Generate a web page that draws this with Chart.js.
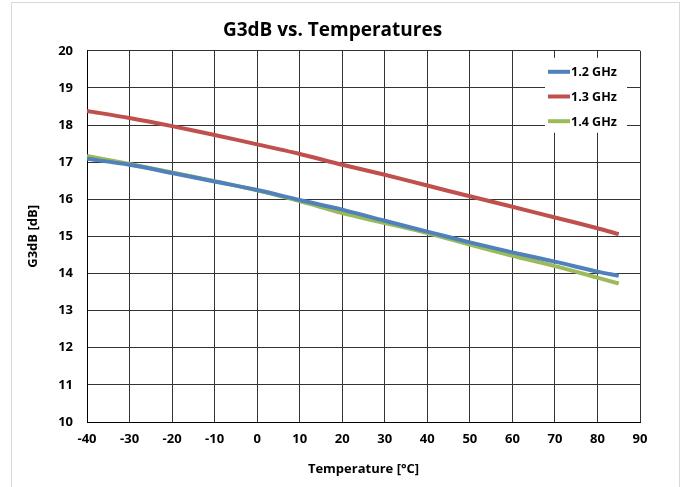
<!DOCTYPE html>
<html>
<head>
<meta charset="utf-8">
<script src="https://cdn.jsdelivr.net/npm/chart.js@4.4.1/dist/chart.umd.min.js"></script>
<style>
  html, body { margin: 0; padding: 0; background: #fff; }
  #wrap { position: relative; width: 686px; height: 487px; }
  #frame { position: absolute; left: 11px; top: 2px; width: 669px; height: 490px; border: 1px solid #d9d9d9; box-sizing: border-box; pointer-events: none; }
</style>
</head>
<body>
<div id="wrap">
  <canvas id="myChart" width="686" height="487"></canvas>
  <div id="frame"></div>
</div>
<script>
const temps = [-40, -30, -20, -10, 0, 10, 20, 30, 40, 50, 60, 70, 80, 85];
const g12 = [17.09, 16.93, 16.71, 16.48, 16.25, 15.98, 15.72, 15.42, 15.13, 14.84, 14.57, 14.32, 14.05, 13.94];
const g13 = [18.38, 18.19, 17.97, 17.73, 17.48, 17.22, 16.93, 16.66, 16.37, 16.08, 15.80, 15.51, 15.22, 15.06];
const g14 = [17.17, 16.95, 16.72, 16.49, 16.24, 15.95, 15.63, 15.36, 15.09, 14.78, 14.48, 14.20, 13.89, 13.73];
const seriesNames = ['1.2 GHz', '1.3 GHz', '1.4 GHz'];
const seriesColors = ['#4F81BD', '#C0504D', '#9BBB59'];

const FONT = '"Open Sans", "Noto Sans", sans-serif';

const toPoints = (vals) => temps.map((t, i) => ({ x: t, y: vals[i] }));

// legend drawn inside the plot area, top right, on a white box
const insideLegend = {
  id: 'insideLegend',
  afterDatasetsDraw(chart) {
    const ctx = chart.ctx;
    const area = chart.chartArea;
    const boxLeft = area.right - 95;
    const boxTop = area.top + 7;
    ctx.save();
    ctx.fillStyle = '#fff';
    ctx.fillRect(boxLeft, boxTop, 82, 75);
    ctx.font = 'bold 12.5px ' + FONT;
    ctx.textBaseline = 'middle';
    chart.data.datasets.forEach((ds, i) => {
      const y = boxTop + 14 + i * 24.7;
      ctx.strokeStyle = ds.borderColor;
      ctx.lineWidth = 4;
      ctx.beginPath();
      ctx.moveTo(boxLeft + 3, y);
      ctx.lineTo(boxLeft + 25, y);
      ctx.stroke();
      ctx.fillStyle = '#000';
      ctx.fillText(ds.label, boxLeft + 26, y + 1);
    });
    ctx.restore();
  }
};

const ctx = document.getElementById('myChart').getContext('2d');
new Chart(ctx, {
  type: 'line',
  data: {
    datasets: [g12, g13, g14].map((vals, i) => ({
      label: seriesNames[i],
      data: toPoints(vals),
      borderColor: seriesColors[i],
      backgroundColor: seriesColors[i],
      borderWidth: 4,
      pointRadius: 0,
      tension: 0.3,
      fill: false
    }))
  },
  options: {
    responsive: false,
    animation: false,
    layout: { padding: { left: 25, right: 46, top: 0, bottom: 10 } },
    plugins: {
      legend: { display: false },
      tooltip: { enabled: false },
      title: {
        display: true,
        text: 'G3dB vs. Temperatures',
        color: '#000',
        font: { family: FONT, size: 19, weight: 'bold' },
        padding: { top: 19, bottom: 9 }
      }
    },
    scales: {
      x: {
        type: 'linear',
        min: -40,
        max: 90,
        ticks: {
          stepSize: 10,
          color: '#000',
          font: { family: FONT, size: 13, weight: 'bold' },
          padding: 9,
          maxRotation: 0
        },
        grid: { color: '#333', lineWidth: 1, drawTicks: false },
        border: { color: '#000', width: 1 },
        title: {
          display: true,
          text: 'Temperature [°C]',
          color: '#000',
          font: { family: FONT, size: 13, weight: 'bold' },
          padding: { top: 4, bottom: 0 }
        },
        afterFit(scale) { scale.height = 55; }
      },
      y: {
        min: 10,
        max: 20,
        ticks: {
          stepSize: 1,
          color: '#000',
          font: { family: FONT, size: 13, weight: 'bold' },
          padding: 14
        },
        grid: { color: '#333', lineWidth: 1, drawTicks: false },
        border: { color: '#000', width: 1 },
        title: {
          display: true,
          text: 'G3dB [dB]',
          color: '#000',
          font: { family: FONT, size: 13, weight: 'bold' },
          padding: { top: 0, bottom: 8 }
        },
        afterFit(scale) { scale.width = 62; }
      }
    }
  },
  plugins: [insideLegend]
});
</script>
</body>
</html>
